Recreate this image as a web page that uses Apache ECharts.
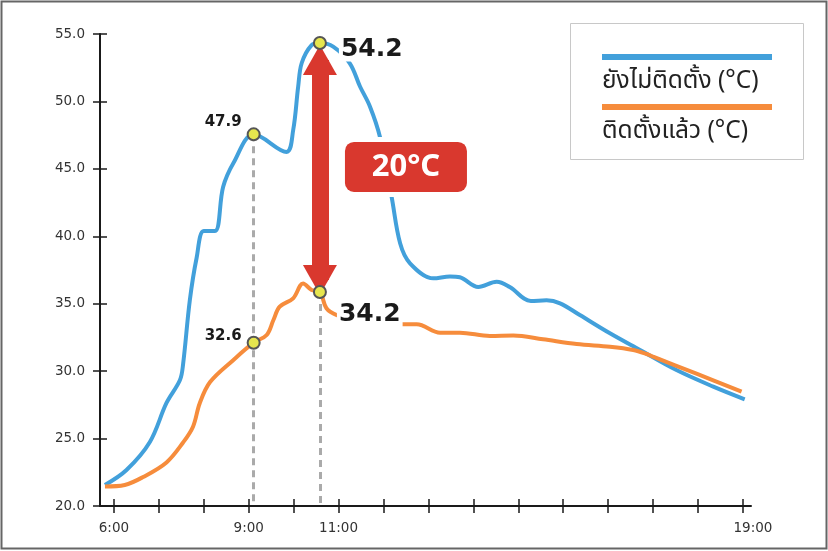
<!DOCTYPE html>
<html><head><meta charset="utf-8">
<script src="https://cdn.jsdelivr.net/npm/echarts@6/dist/echarts.min.js"></script>
<style>html,body{margin:0;padding:0;background:#fff}#c{width:828px;height:551px}</style>
</head><body><div id="c"></div>
<script>
const seriesNames = ['ยังไม่ติดตั้ง (°C)', 'ติดตั้งแล้ว (°C)'];
const tickValues = [0,1,2,3,4,5,6,7,8,9,10,11,12,13,14];
const tickLabelValues = [0,3,5,14];
const tickLabels = ['6:00','9:00','11:00','19:00'];

const blueX = [-0.20,0.28,0.80,1.17,1.47,1.54,1.69,1.84,2.00,2.25,2.43,2.66,3.11,3.84,3.99,4.10,4.18,4.40,4.585,4.88,5.25,5.48,5.70,5.92,6.18,6.37,6.59,7.11,7.48,7.70,8.11,8.52,8.81,9.28,9.63,9.93,10.37,11.04,11.71,12.52,13.34,14.04];
const blueY = [21.56,22.67,24.75,27.64,29.34,30.53,35.28,38.39,40.39,40.39,43.65,45.43,47.56,46.25,47.88,51.07,52.85,54.18,54.33,54.06,52.83,51.09,49.61,47.38,42.94,39.48,38.00,36.88,37.02,36.96,36.24,36.63,36.24,35.20,35.25,35.03,34.16,32.81,31.57,30.08,28.85,27.91];

const orangeX = [-0.20,0.24,0.65,1.17,1.54,1.76,1.91,2.14,2.66,3.11,3.40,3.55,3.69,3.99,4.21,4.40,4.585,4.73,4.96,5.48,6.37,6.74,7.26,7.70,8.37,8.89,9.55,10.30,11.04,11.56,11.86,12.00,12.98,13.97];
const orangeY = [21.45,21.56,22.15,23.23,24.71,25.88,27.62,29.19,30.83,32.11,32.68,33.79,34.78,35.40,36.50,36.02,35.87,34.66,34.16,33.72,33.47,33.47,32.85,32.85,32.61,32.64,32.36,32.01,31.81,31.57,31.27,31.07,29.79,28.48];

const pointX = [3.11,3.11,4.585,4.585];
const pointY = [47.56,32.11,54.33,35.87];
const pointLabels = ['47.9','32.6','54.2','34.2'];

const diffX = 4.585;
const diffFrom = 53.07;
const diffTo = 36.76;
const diffLabel = '20°C';
const diffLabelX = 6.5;
const diffLabelY = 45.14;

const BLUE = '#42a0db', ORANGE = '#f68c3c', RED = '#d9382e', AX = '#1a1a1a';
const THAI = '"Noto Sans Thai","Noto Sans Thai UI","Noto Sans",sans-serif';
const NUM = '"DejaVu Sans",Verdana,sans-serif';

const zip = (xs, ys) => xs.map((x, i) => [x, ys[i]]);

const labelStyles = [
  {position:'left', offset:[0,-12], fontSize:15},
  {position:'left', offset:[0,-7], fontSize:15},
  {position:'right', offset:[7,6], fontSize:25, backgroundColor:'#fff', padding:[0,2]},
  {position:'right', offset:[5,23], fontSize:25, backgroundColor:'#fff', padding:[0,2,6,2]}
];

const legendRich = {
  lb:{backgroundColor:BLUE, width:170, height:6, lineHeight:6},
  lo:{backgroundColor:ORANGE, width:170, height:6, lineHeight:6},
  t:{fontSize:24.5, lineHeight:46, color:'#222', fontFamily:THAI}
};
const legendBase = {
  orient:'vertical', left:597, padding:0, itemGap:0, itemWidth:0, itemHeight:0, icon:'rect',
  selectedMode:false, z:5,
  formatter: name => (name === seriesNames[0] ? '{lb|}' : '{lo|}') + '\n{t|' + name + '}',
  textStyle:{rich:legendRich}
};

const chart = echarts.init(document.getElementById('c'), null, {renderer:'canvas'});
const xBase = {type:'value', min:-0.31, max:14.18, position:'bottom', splitLine:{show:false}};
const yBase = {type:'value', min:20, max:55, interval:5, position:'left', offset:0, splitLine:{show:false}};
chart.setOption({
  animation:false,
  backgroundColor:'#fff',
  grid:{left:100, right:77, top:34, bottom:45, containLabel:false},
  xAxis:[
    Object.assign({}, xBase, {
      axisLine:{show:true, onZero:false, lineStyle:{color:AX, width:2}},
      axisTick:{show:true, customValues:tickValues, length:7, lineStyle:{color:AX, width:1.5}},
      axisLabel:{show:true, customValues:tickLabelValues, margin:15, color:'#333', fontSize:13.5, fontFamily:NUM,
        formatter: v => { const i = tickLabelValues.indexOf(v); if (i < 0) return ''; return i === tickLabels.length-1 ? '{e|' + tickLabels[i] + '}' : tickLabels[i]; },
        rich:{e:{padding:[0,0,0,20], color:'#333', fontSize:13.5, fontFamily:NUM}}}
    }),
    Object.assign({}, xBase, {
      axisLine:{show:false, onZero:false},
      axisTick:{show:true, inside:true, customValues:tickValues, length:7, lineStyle:{color:AX, width:1.5}},
      axisLabel:{show:false}
    })
  ],
  yAxis:[
    Object.assign({}, yBase, {
      axisLine:{show:true, onZero:false, lineStyle:{color:AX, width:2}},
      axisTick:{show:true, length:7, lineStyle:{color:AX, width:1.5}},
      axisLabel:{show:true, margin:15, color:'#333', fontSize:13.5, fontFamily:NUM, formatter: v => v.toFixed(1)}
    }),
    Object.assign({}, yBase, {
      axisLine:{show:false, onZero:false},
      axisTick:{show:true, inside:true, length:7, lineStyle:{color:AX, width:1.5}},
      axisLabel:{show:false}
    })
  ],
  legend:[
    Object.assign({}, legendBase, {data:[seriesNames[0]], top:51}),
    Object.assign({}, legendBase, {data:[seriesNames[1]], top:101})
  ],
  graphic:[
    {type:'rect', silent:true, z:1, shape:{x:570.5, y:23.5, width:233, height:136}, style:{fill:'#fff', stroke:'#c8c8c8', lineWidth:1}},
    {type:'rect', silent:true, z:100, shape:{x:1.5, y:1.5, width:825, height:547}, style:{fill:'none', stroke:'#666', lineWidth:2}}
  ],
  series:[
    {name:seriesNames[0], type:'line', data:zip(blueX, blueY), showSymbol:false, smooth:0.35,
     lineStyle:{width:4, color:BLUE}, itemStyle:{color:BLUE}, z:2, silent:true},
    {name:seriesNames[1], type:'line', data:zip(orangeX, orangeY), showSymbol:false, smooth:0.35,
     lineStyle:{width:4, color:ORANGE}, itemStyle:{color:ORANGE}, z:2, silent:true},
    {type:'scatter', data:[], silent:true, z:3,
     markLine:{silent:true, symbol:['none','none'], label:{show:false}, lineStyle:{color:'#aaa', width:3, type:[7,5]},
       data:[
         [{coord:[pointX[0], pointY[0]]}, {coord:[pointX[0], 20]}],
         [{coord:[pointX[3], pointY[3]]}, {coord:[pointX[3], 20]}]
       ]}},
    {type:'scatter', data:[], silent:true, z:4,
     markLine:{silent:true, symbol:['triangle','triangle'], symbolSize:[34,30], label:{show:false},
       lineStyle:{color:RED, width:17, type:'solid'}, itemStyle:{color:RED},
       data:[[{coord:[diffX, diffFrom]}, {coord:[diffX, diffTo]}]]}},
    {type:'scatter', silent:true, z:10, symbol:'circle', symbolSize:12,
     itemStyle:{color:'#e6e64e', borderColor:'#555', borderWidth:2, opacity:1},
     label:{show:true, formatter: p => p.name, fontFamily:NUM, fontWeight:'bold', color:'#1a1a1a'},
     data: pointX.map((x, i) => ({name:pointLabels[i], value:[x, pointY[i]], label:labelStyles[i]}))},
    {type:'scatter', data:[], silent:true, z:11,
     markPoint:{silent:true, symbol:'circle', symbolSize:1, itemStyle:{color:'rgba(0,0,0,0)'},
       label:{show:true, position:'inside', formatter:'{b|' + diffLabel + '}', backgroundColor:'#fff', padding:5, borderRadius:13,
         rich:{b:{backgroundColor:RED, color:'#fff', fontSize:31, fontWeight:'bold', fontFamily:'"Noto Sans",sans-serif',
           width:122, height:50, lineHeight:50, align:'center', borderRadius:9}}},
       data:[{coord:[diffLabelX, diffLabelY], value:diffLabel}]}}
  ]
});
</script></body></html>
